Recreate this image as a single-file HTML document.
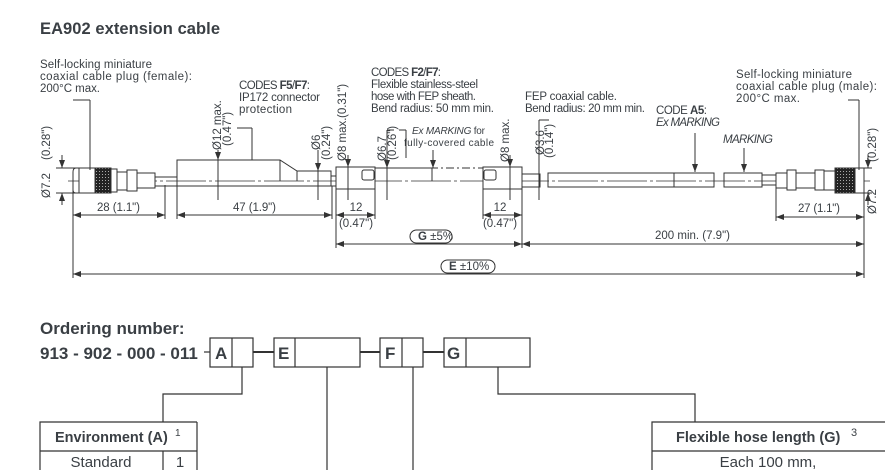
<!DOCTYPE html>
<html><head><meta charset="utf-8"><style>
html,body{margin:0;padding:0;background:#fff;}
svg{display:block;font-family:"Liberation Sans",sans-serif;}
</style></head><body>
<svg width="885" height="470" viewBox="0 0 885 470" xmlns="http://www.w3.org/2000/svg">
<defs>
<pattern id="kn" width="3" height="3" patternUnits="userSpaceOnUse"><rect width="3" height="3" fill="#222"/><rect width="1" height="1" fill="#aaa"/></pattern>
<marker id="ar" markerWidth="8" markerHeight="6" refX="8" refY="3" orient="auto-start-reverse" markerUnits="userSpaceOnUse"><path d="M0,0 L8,3 L0,6 z" fill="#333"/></marker>
</defs>
<g fill="#3a3f44">
<text x="40" y="34" font-size="16.5" font-weight="bold" textLength="180" lengthAdjust="spacing">EA902 extension cable</text>
<g font-size="11.5">
<text x="40" y="68" textLength="112" lengthAdjust="spacing">Self-locking miniature</text>
<text x="40" y="80" textLength="152" lengthAdjust="spacing">coaxial cable plug (female):</text>
<text x="40" y="92" textLength="60" lengthAdjust="spacing">200°C max.</text>
<text x="239" y="89" textLength="71" lengthAdjust="spacing">CODES <tspan font-weight="bold">F5</tspan>/<tspan font-weight="bold">F7</tspan>:</text>
<text x="239" y="101" textLength="81" lengthAdjust="spacing">IP172 connector</text>
<text x="239" y="113" textLength="53" lengthAdjust="spacing">protection</text>
<text x="371" y="76" textLength="70" lengthAdjust="spacing">CODES <tspan font-weight="bold">F2</tspan>/<tspan font-weight="bold">F7</tspan>:</text>
<text x="371" y="88" textLength="107" lengthAdjust="spacing">Flexible stainless-steel</text>
<text x="371" y="100" textLength="105" lengthAdjust="spacing">hose with FEP sheath.</text>
<text x="371" y="112" textLength="123" lengthAdjust="spacing">Bend radius: 50 mm min.</text>
<text x="412" y="134" font-size="10" textLength="73" lengthAdjust="spacing"><tspan font-style="italic">Ex MARKING</tspan> for</text>
<text x="404" y="146" font-size="10" textLength="90" lengthAdjust="spacing">fully-covered cable</text>
<text x="525" y="100" textLength="92" lengthAdjust="spacing">FEP coaxial cable.</text>
<text x="525" y="112" textLength="120" lengthAdjust="spacing">Bend radius: 20 mm min.</text>
<text x="656" y="114" textLength="51" lengthAdjust="spacing">CODE <tspan font-weight="bold">A5</tspan>:</text>
<text x="656" y="126" font-style="italic" textLength="64" lengthAdjust="spacing">Ex MARKING</text>
<text x="723" y="143" font-style="italic" textLength="50" lengthAdjust="spacing">MARKING</text>
<text x="736" y="78" textLength="116" lengthAdjust="spacing">Self-locking miniature</text>
<text x="736" y="90" textLength="141" lengthAdjust="spacing">coaxial cable plug (male):</text>
<text x="736" y="102" textLength="64" lengthAdjust="spacing">200°C max.</text>
<text x="97" y="211" textLength="43" lengthAdjust="spacing">28 (1.1")</text>
<text x="233" y="211" textLength="43" lengthAdjust="spacing">47 (1.9")</text>
<text x="356" y="211" text-anchor="middle">12</text>
<text x="356" y="227" text-anchor="middle">(0.47")</text>
<text x="500" y="211" text-anchor="middle">12</text>
<text x="500" y="227" text-anchor="middle">(0.47")</text>
<text x="798" y="212" textLength="42" lengthAdjust="spacing">27 (1.1")</text>
<text x="655" y="239" textLength="75" lengthAdjust="spacing">200 min. (7.9")</text>
<text x="418" y="240"><tspan font-weight="bold">G</tspan> ±5%</text>
<text x="449" y="270"><tspan font-weight="bold">E</tspan> ±10%</text>
<text transform="translate(50,198) rotate(-90)">Ø7.2</text>
<text transform="translate(50,160) rotate(-90)">(0.28")</text>
<text transform="translate(876,214) rotate(-90)">Ø7.2</text>
<text transform="translate(876,162) rotate(-90)">(0.28")</text>
<text transform="translate(221,150) rotate(-90)">Ø12 max.</text>
<text transform="translate(231,146) rotate(-90)">(0.47")</text>
<text transform="translate(320,150) rotate(-90)">Ø6</text>
<text transform="translate(330,160) rotate(-90)">(0.24")</text>
<text transform="translate(346,161) rotate(-90)">Ø8 max.</text>
<text transform="translate(346,118) rotate(-90)">(0.31")</text>
<text transform="translate(386,161) rotate(-90)">Ø6.7</text>
<text transform="translate(396,160) rotate(-90)">(0.26")</text>
<text transform="translate(509,162) rotate(-90)">Ø8 max.</text>
<text transform="translate(544,155) rotate(-90)">Ø3.6</text>
<text transform="translate(553,158) rotate(-90)">(0.14")</text>
</g>
</g>
<g stroke="#333" stroke-width="1" fill="none">
<line x1="68" y1="181" x2="870" y2="181" stroke-dasharray="40,3,3,3" stroke-width="0.8"/>
<line x1="155" y1="186" x2="337" y2="186"/>
<path d="M79,168 H76 Q73,168 73,172 V190 Q73,193 76,193 H79"/>
<rect x="79" y="168" width="16" height="25" fill="#fff"/>
<rect x="95" y="168" width="16" height="25" fill="url(#kn)"/>
<rect x="111" y="169" width="6" height="23" fill="#fff"/>
<rect x="117" y="172" width="10" height="18" fill="#fff"/>
<rect x="127" y="170" width="10" height="21" fill="#fff"/>
<rect x="137" y="173" width="18" height="15" fill="#fff"/>
<line x1="155" y1="177" x2="177" y2="177"/>
<path d="M177,181 V160 H280 L297,171 H331 V181"/>
<line x1="280" y1="160" x2="280" y2="181"/>
<line x1="297" y1="171" x2="297" y2="181"/>
<rect x="331" y="176" width="5" height="10"/>
<rect x="336" y="167" width="39" height="22" fill="#fff"/>
<rect x="362" y="170" width="12" height="10" rx="2"/>
<path d="M375,168 H483 M375,192 V168 M483,168 V192"/>
<line x1="430" y1="168" x2="480" y2="168" stroke="#fff" stroke-width="2"/>
<line x1="430" y1="168" x2="480" y2="168" stroke-dasharray="8,3,2,3"/>
<line x1="432" y1="168" x2="432" y2="181"/>
<rect x="483" y="167" width="39" height="22" fill="#fff"/>
<rect x="484" y="170" width="12" height="10" rx="2"/>
<rect x="522" y="174" width="18" height="13"/>
<rect x="548" y="173" width="126" height="14"/>
<rect x="674" y="173" width="40" height="14"/>
<rect x="724" y="173" width="38" height="14"/>
<rect x="762" y="175" width="14" height="10"/>
<rect x="776" y="173" width="11" height="15" fill="#fff"/>
<rect x="787" y="170" width="9" height="20" fill="#fff"/>
<rect x="796" y="173" width="19" height="15" fill="#fff"/>
<rect x="815" y="170" width="9" height="20" fill="#fff"/>
<rect x="824" y="171" width="11" height="19" fill="#fff"/>
<rect x="835" y="168" width="20" height="25" fill="url(#kn)"/>
<rect x="855" y="168" width="9" height="25" fill="#fff"/>
<path d="M90,100 H73 M90,100 V170"/>
<path d="M252,128 H237 M252,128 V160"/>
<path d="M406,130 V158 M406,130 H399"/>
<path d="M433,150 V168" marker-end="url(#ar)"/>
<path d="M695,133 V172" marker-end="url(#ar)"/>
<path d="M744,148 V172" marker-end="url(#ar)"/>
<path d="M859,100 H848 M859,100 V170"/>
<line x1="218" y1="150" x2="218" y2="200"/><path d="M218,150 V160" marker-end="url(#ar)"/>
<line x1="318" y1="150" x2="318" y2="200"/><path d="M318,160 V171" marker-end="url(#ar)"/>
<line x1="348" y1="155" x2="348" y2="200"/><path d="M348,157 V167" marker-end="url(#ar)"/>
<path d="M387,130 H394 M387,130 V200"/><path d="M387,158 V168" marker-end="url(#ar)"/>
<line x1="510" y1="155" x2="510" y2="200"/><path d="M510,157 V167" marker-end="url(#ar)"/>
<path d="M539,120 H549 M539,120 V200"/>
<path d="M62,155 V168" marker-end="url(#ar)"/><path d="M62,205 V193" marker-end="url(#ar)"/>
<line x1="56" y1="168" x2="76" y2="168"/><line x1="56" y1="193" x2="76" y2="193"/>
<path d="M868,155 V168" marker-end="url(#ar)"/><path d="M868,205 V193" marker-end="url(#ar)"/>
<line x1="862" y1="168" x2="872" y2="168"/><line x1="862" y1="193" x2="872" y2="193"/>
<line x1="73" y1="185" x2="73" y2="278"/>
<line x1="165" y1="185" x2="165" y2="219"/>
<line x1="177" y1="181" x2="177" y2="219"/>
<line x1="332" y1="186" x2="332" y2="219"/>
<line x1="336" y1="189" x2="336" y2="248"/>
<line x1="375" y1="189" x2="375" y2="219"/>
<line x1="483" y1="189" x2="483" y2="219"/>
<line x1="522" y1="189" x2="522" y2="248"/>
<line x1="776" y1="188" x2="776" y2="221"/>
<line x1="864" y1="193" x2="864" y2="278"/>
<path d="M73,215 H165" marker-start="url(#ar)" marker-end="url(#ar)"/>
<path d="M177,215 H332" marker-start="url(#ar)" marker-end="url(#ar)"/>
<path d="M336,215 H375" marker-start="url(#ar)" marker-end="url(#ar)"/>
<path d="M483,215 H522" marker-start="url(#ar)" marker-end="url(#ar)"/>
<path d="M776,217 H864" marker-start="url(#ar)" marker-end="url(#ar)"/>
<path d="M336,244 H522" marker-start="url(#ar)" marker-end="url(#ar)"/>
<path d="M522,244 H864" marker-start="url(#ar)" marker-end="url(#ar)"/>
<path d="M73,274 H864" marker-start="url(#ar)" marker-end="url(#ar)"/>
<rect x="410" y="230" width="42" height="13" rx="6.5"/>
<rect x="441" y="260" width="54" height="13" rx="6.5"/>
</g>
<g fill="#3a3f44" font-weight="bold">
<text x="40" y="334" font-size="17">Ordering number:</text>
<text x="40" y="359" font-size="17">913 - 902 - 000 - 011</text>
<text x="215" y="359" font-size="17">A</text>
<text x="278" y="359" font-size="17">E</text>
<text x="385" y="359" font-size="17">F</text>
<text x="447" y="359" font-size="17">G</text>
<text x="55" y="442" font-size="14.5">Environment (A)</text>
<text x="175" y="436" font-size="10" font-weight="normal">1</text>
<text x="676" y="442" font-size="14.5">Flexible hose length (G)</text>
<text x="851" y="436" font-size="11" font-weight="normal">3</text>
</g>
<g fill="#3a3f44" font-size="15">
<text x="101" y="467" text-anchor="middle">Standard</text>
<text x="180" y="467" text-anchor="middle">1</text>
<text x="768" y="467" text-anchor="middle">Each 100 mm,</text>
</g>
<g stroke="#333" stroke-width="1.2" fill="none">
<line x1="204" y1="352" x2="210" y2="352"/>
<rect x="210" y="338" width="43" height="29"/><line x1="232" y1="338" x2="232" y2="367"/>
<line x1="253" y1="352" x2="274" y2="352" stroke-width="2"/>
<rect x="274" y="338" width="86" height="29"/><line x1="295" y1="338" x2="295" y2="367"/>
<line x1="360" y1="352" x2="380" y2="352" stroke-width="2"/>
<rect x="380" y="338" width="43" height="29"/><line x1="402" y1="338" x2="402" y2="367"/>
<line x1="423" y1="352" x2="444" y2="352" stroke-width="2"/>
<rect x="444" y="338" width="86" height="29"/><line x1="466" y1="338" x2="466" y2="367"/>
<path d="M242,367 V394 H163 V422"/>
<line x1="327" y1="367" x2="327" y2="470"/>
<line x1="413" y1="367" x2="413" y2="470"/>
<path d="M498,367 V394 H695 V422"/>
<path d="M197,422 H40 V470 M40,451 H197 M163,451 V470"/>
<line x1="197" y1="422" x2="197" y2="470"/>
<path d="M885,422 H652 V470 M652,451 H885"/>
</g>
</svg>
</body></html>
